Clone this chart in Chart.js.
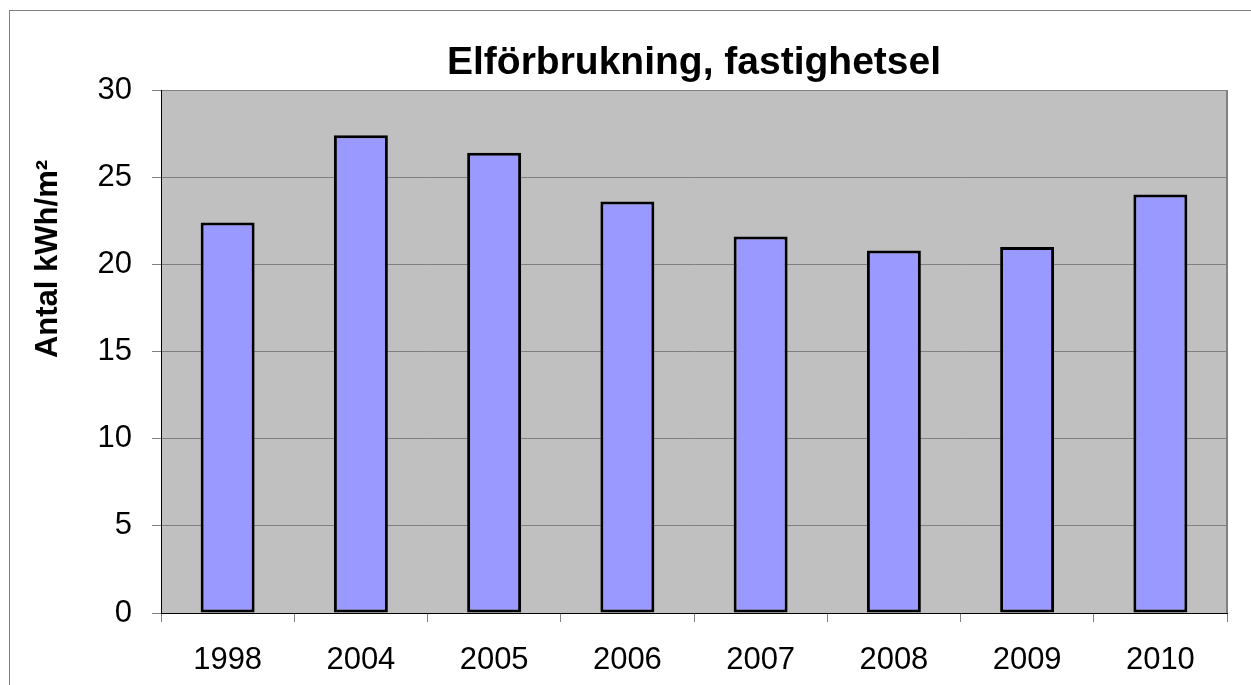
<!DOCTYPE html>
<html>
<head>
<meta charset="utf-8">
<script src="https://cdn.jsdelivr.net/npm/chart.js@4/dist/chart.umd.min.js"></script>
<style>
  body { margin: 0; background: #fff; }
  #wrap { width: 1251px; height: 685px; }
</style>
</head>
<body>
<div id="wrap"><canvas id="chart" width="1251" height="685"></canvas></div>
<script>
// Data
const years = ['1998', '2004', '2005', '2006', '2007', '2008', '2009', '2010'];
const kwhPerM2 = [22.4, 27.4, 26.4, 23.6, 21.6, 20.8, 21.0, 24.0];
const yTicks = [0, 5, 10, 15, 20, 25, 30];

const chartTitle = 'Elförbrukning, fastighetsel';
const yTitle = 'Antal kWh/m²';
const FONT = '"Liberation Sans", Arial, sans-serif';

// Background, frame and titles
const framePlugin = {
    id: 'frame',
    beforeDraw(chart) {
        const ctx = chart.ctx;
        const a = chart.chartArea;
        ctx.save();
        ctx.fillStyle = '#ffffff';
        ctx.fillRect(0, 0, chart.width, chart.height);
        ctx.strokeStyle = '#808080';
        ctx.lineWidth = 1;
        ctx.strokeRect(9.5, 10.5, chart.width + 20, chart.height + 20);
        ctx.fillStyle = '#c0c0c0';
        ctx.fillRect(a.left, a.top, a.right - a.left, a.bottom - a.top);
        ctx.restore();
    },
    afterDraw(chart) {
        const ctx = chart.ctx;
        const a = chart.chartArea;
        ctx.save();
        // right edge of plot area
        ctx.strokeStyle = '#808080';
        ctx.lineWidth = 2;
        ctx.beginPath();
        ctx.moveTo(a.right, a.top);
        ctx.lineTo(a.right, a.bottom);
        ctx.stroke();
        // title
        ctx.fillStyle = '#000';
        ctx.font = 'bold 39px ' + FONT;
        ctx.textAlign = 'center';
        ctx.textBaseline = 'alphabetic';
        ctx.fillText(chartTitle, (a.left + a.right) / 2, 74);
        // y axis title
        ctx.translate(48, 259);
        ctx.rotate(-Math.PI / 2);
        ctx.font = 'bold 31px ' + FONT;
        ctx.textBaseline = 'middle';
        ctx.fillText(yTitle, 0, 0);
        ctx.restore();
    }
};

new Chart(document.getElementById('chart'), {
    type: 'bar',
    data: {
        labels: years,
        datasets: [{
            data: kwhPerM2,
            backgroundColor: '#9999ff',
            borderColor: '#000000',
            borderWidth: 3,
            borderSkipped: false,
            barPercentage: 0.405,
            categoryPercentage: 1
        }]
    },
    options: {
        responsive: false,
        animation: false,
        layout: { padding: { top: 90, right: 24, left: 0, bottom: 0 } },
        plugins: { legend: { display: false }, tooltip: { enabled: false }, title: { display: false } },
        scales: {
            x: {
                grid: { offset: true, drawOnChartArea: false, color: '#808080', tickLength: 9 },
                border: { color: '#000000', width: 1 },
                ticks: { color: '#000', font: { family: FONT, size: 31 }, padding: 20, maxRotation: 0 },
                afterFit(scale) { scale.height = 72; }
            },
            y: {
                min: yTicks[0],
                max: yTicks[yTicks.length - 1],
                afterBuildTicks(scale) { scale.ticks = yTicks.map(v => ({ value: v })); },
                grid: { color: '#808080', tickLength: 9 },
                border: { color: '#000000', width: 1 },
                ticks: { color: '#000', font: { family: FONT, size: 31 }, padding: 20 },
                afterFit(scale) { scale.width = 161; }
            }
        }
    },
    plugins: [framePlugin]
});
</script>
</body>
</html>
